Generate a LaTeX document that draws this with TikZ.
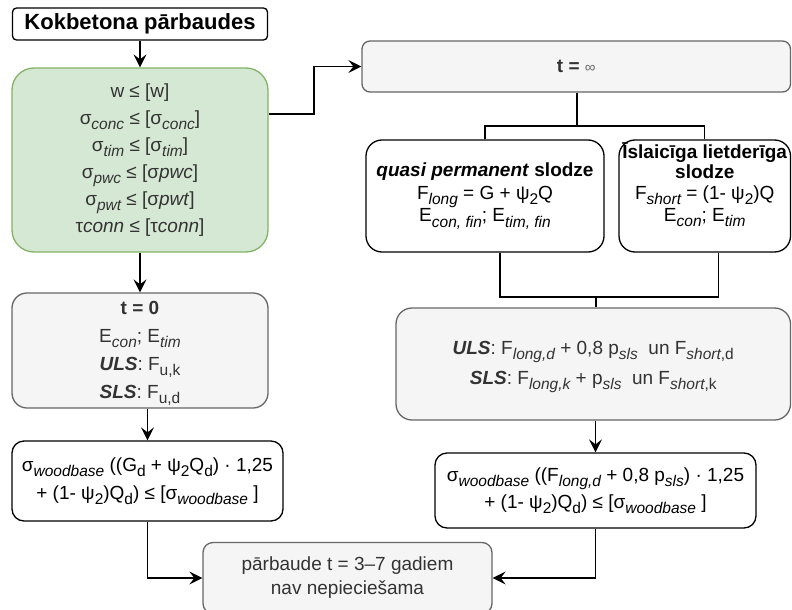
\documentclass[tikz,border=0pt]{standalone}
\usepackage{fontspec}
\setmainfont{Liberation Sans}
\usetikzlibrary{arrows.meta,calc}
\definecolor{grnF}{HTML}{D5E8D4}
\definecolor{grnD}{HTML}{82B366}
\definecolor{gryF}{HTML}{F5F5F5}
\definecolor{gryD}{HTML}{666666}
\definecolor{txtG}{HTML}{333333}
\newcommand\lo[1]{\raisebox{-0.28em}{\fontsize{15.5}{15.5}\selectfont\itshape #1}}
\newcommand\lu[1]{\raisebox{-0.28em}{\fontsize{15.5}{15.5}\selectfont #1}}
\tikzset{
  box/.style={draw, rectangle, inner sep=0pt, line width=1.3pt, align=center},
  whitebox/.style={box, fill=white, draw=black, text=black},
  graybox/.style={box, fill=gryF, draw=gryD, text=txtG},
  greenbox/.style={box, fill=grnF, draw=grnD, text=txtG},
  plaintext/.style={inner sep=0pt, align=center},
  arr/.style={-{Stealth[length=13pt,width=13pt,inset=5pt]}, line width=1.3pt},
  ln/.style={line width=1.3pt}
}
\begin{document}
\begin{tikzpicture}[x=1pt,y=-1pt]
\useasboundingbox (0,0) rectangle (792,610);

\node[whitebox, rounded corners=4pt, minimum width=255pt, minimum height=32pt,
  font=\fontsize{22}{24}\selectfont\bfseries] (title) at (140,24) {Kokbetona pārbaudes};

\node[greenbox, rounded corners=22pt, minimum width=256pt, minimum height=184pt,
  font=\fontsize{19}{27}\selectfont] (green) at (140,160)
  {w ≤ [w]\\ σ\lo{conc} ≤ [σ\lo{conc}]\\ σ\lo{tim} ≤ [σ\lo{tim}]\\
   σ\lo{pwc} ≤ [σ\textit{pwc}]\\ σ\lo{pwt} ≤ [σ\textit{pwt}]\\
   τ\textit{conn} ≤ [τ\textit{conn}]};

\node[graybox, rounded corners=15pt, minimum width=256pt, minimum height=115pt] (t0) at (140,350.5) {};
\node[plaintext, text=txtG, font=\fontsize{19}{28}\selectfont] (t0txt) at ([yshift=-3pt]t0.center)
  {\textbf{t = 0}\\ E\lo{con}; E\lo{tim}\\ \textbf{\textit{ULS}}: F\lu{u,k}\\ \textbf{\textit{SLS}}: F\lu{u,d}};

\node[whitebox, rounded corners=12pt, minimum width=271pt, minimum height=80pt,
  font=\fontsize{19}{28}\selectfont] (fl) at (147.5,481)
  {σ\lo{woodbase} ((G\lu{d} + ψ\lu{2}Q\lu{d}) · 1,25\\ + (1- ψ\lu{2})Q\lu{d}) ≤ [σ\lo{woodbase} ]};

\node[graybox, rounded corners=10pt, minimum width=289pt, minimum height=71pt,
  font=\fontsize{19}{24}\selectfont] (bot) at (347.5,578)
  {pārbaude t = 3–7 gadiem\\ nav nepieciešama};

\node[graybox, rounded corners=8pt, minimum width=428.5pt, minimum height=51pt,
  font=\fontsize{19}{22}\selectfont] (tinf) at (576.25,66.5)
  {\textbf{t =} {\color{gryD}\fontsize{15}{15}\selectfont ∞}};

\node[whitebox, rounded corners=16pt, minimum width=238pt, minimum height=112pt,
  font=\fontsize{19}{22.5}\selectfont] (quasi) at (485,196)
  {\textbf{\textit{quasi permanent} slodze}\\ F\lo{long} = G + ψ\lu{2}Q\\ E\lo{con, fin}; E\lo{tim, fin}};

\node[whitebox, rounded corners=16pt, minimum width=171.5pt, minimum height=112pt] (short) at (704.75,196) {};
\node[plaintext, font=\fontsize{19}{21}\selectfont] (shorttxt) at ([yshift=11pt]short.center)
  {\textbf{Īslaicīga lietderīga}\\[-1pt] \textbf{slodze}\\ F\lo{short} = (1- ψ\lu{2})Q\\[1pt] E\lo{con}; E\lo{tim}};

\node[graybox, rounded corners=16pt, minimum width=394.5pt, minimum height=112pt] (uls) at (593.25,364) {};
\node[plaintext, text=txtG, font=\fontsize{19}{30}\selectfont] (ulstxt) at ([yshift=-3pt]uls.center)
  {\textbf{\textit{ULS}}: F\lo{long,d} + 0,8 p\lo{sls}~ un F\lo{short}\lu{,d}\\
   \textbf{\textit{SLS}}: F\lo{long,k} + p\lo{sls}~ un F\lo{short}\lu{,k}};

\node[whitebox, rounded corners=12pt, minimum width=321pt, minimum height=75pt,
  font=\fontsize{19}{27}\selectfont] (fr) at (595.5,490.5)
  {σ\lo{woodbase} ((F\lo{long,d} + 0,8 p\lo{sls}) · 1,25\\ + (1- ψ\lu{2})Q\lu{d}) ≤ [σ\lo{woodbase} ]};

% connectors
\draw[arr] (title.south) -- (green.north);
\draw[arr] (green.south) -- (t0.north);
\draw[arr] (t0.south -| fl.north) -- (fl.north);
\draw[arr] (fl.south) |- (bot.west);
\draw[arr] (fr.south) |- (bot.east);
\coordinate (g1) at (314,114);
\draw[arr] (green.east |- g1) -- (g1) |- (tinf.west);
\coordinate (j1) at (577,126);
\draw[ln] (tinf.south -| j1) -- (j1);
\draw[ln] (quasi.north) |- (j1) -| (short.north);
\coordinate (j2) at (596,297);
\draw[ln] ([xshift=15pt]quasi.south) |- (j2) -| ([xshift=14pt]short.south);
\draw[ln] (j2) -- (j2 |- uls.north);
\draw[arr] (uls.south -| fr.north) -- (fr.north);
\end{tikzpicture}
\end{document}
